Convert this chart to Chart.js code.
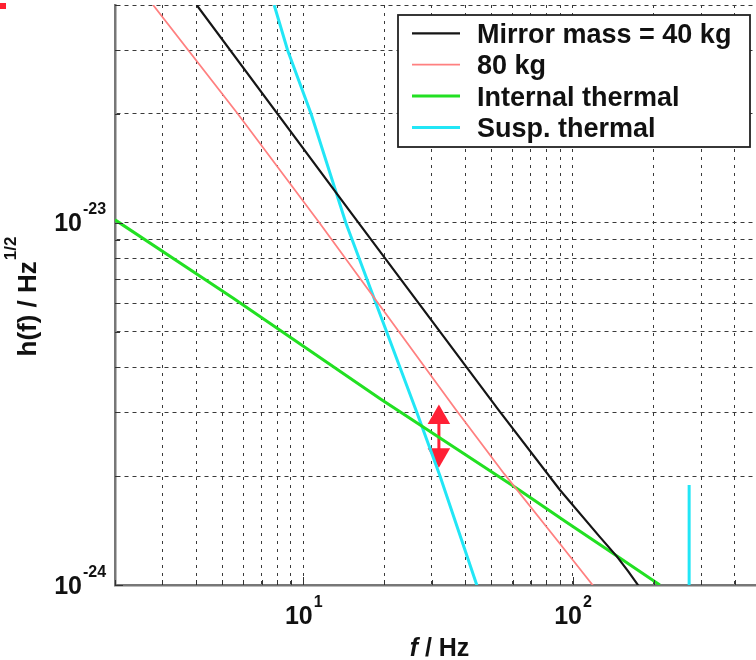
<!DOCTYPE html>
<html>
<head>
<meta charset="utf-8">
<title>h(f) noise curves</title>
<script src="https://cdn.jsdelivr.net/npm/chart.js@4.4.1/dist/chart.umd.min.js"></script>
<style>
  html, body { margin: 0; padding: 0; background: #fff; overflow: hidden; }
  #wrap { position: relative; width: 756px; height: 660px; }
  #mark { position: absolute; left: 0; top: 3px; width: 6px; height: 6px; background: #ff2030; }
</style>
</head>
<body>
<div id="wrap">
  <canvas id="noiseChart" width="756" height="660"></canvas>
  <div id="mark"></div>
</div>
<script>
// axis range and grid
const F_MIN = 2, F_MAX = 480;
const H_MIN = 1e-24, H_MAX = 4e-23;
const F_GRID = [2, 3, 4, 5, 6, 7, 8, 9, 10, 20, 30, 40, 50, 60, 70, 80, 90, 100, 200, 300, 400];
const H_GRID = [1e-24, 2e-24, 3e-24, 4e-24, 5e-24, 6e-24, 7e-24, 8e-24, 9e-24, 1e-23, 2e-23, 3e-23, 4e-23];
const F_LABEL_EXP = [1, 2];
const H_LABEL_EXP = [-24, -23];

// curves: [f / Hz, h / Hz^-1/2]
const mass40 = [[4.02, 4.0e-23], [15.3, 1.05e-23], [53.0, 3.05e-24], [89.8, 1.83e-24],
  [126, 1.36e-24], [146, 1.2e-24], [161, 1.09e-24], [175, 1.0e-24], [185, 0.93e-24]];
const mass80 = [[2.77, 4.0e-23], [5.72, 2.0e-23], [11.5, 1.0e-23], [36.9, 3.05e-24],
  [55.7, 2.03e-24], [89.8, 1.3e-24], [118.7, 1.0e-24], [125, 0.95e-24]];
const internalThermal = [[2, 1.02e-23], [5.5, 6.2e-24], [19.3, 3.27e-24], [62, 1.85e-24],
  [95, 1.49e-24], [142, 1.22e-24], [211, 1.0e-24]];
const suspThermal = [[7.8, 4.0e-23], [8.75, 3.0e-23], [10.7, 2.0e-23], [14.4, 1.0e-23], [26.4, 3.0e-24],
  [32.2, 2.0e-24], [44.1, 1.0e-24], [46, 0.92e-24], [100, null], [271, 0.9e-24], [271, 1.89e-24]];

// red double arrow (f, heads)
const ARROW_F = 31.9;
const ARROW_H = [2.9e-24, 2.29e-24];

const FONT = '"Liberation Sans", Arial, Helvetica, sans-serif';

const toXY = arr => arr.map(([x, y]) => ({ x, y }));

function drawPower(ctx, x, y, exp, size, supSize, align) {
  ctx.font = `bold ${size}px ${FONT}`;
  const base = ctx.measureText('10').width;
  ctx.font = `bold ${supSize}px ${FONT}`;
  const sup = ctx.measureText(String(exp)).width;
  const x0 = align === 'center' ? x - (base + sup) / 2 : x - base;
  ctx.font = `bold ${size}px ${FONT}`;
  ctx.fillText('10', x0, y);
  ctx.font = `bold ${supSize}px ${FONT}`;
  ctx.fillText(String(exp), x0 + base + 1, y - size * 0.68);
}

const decorations = {
  id: 'decorations',
  afterDraw(chart) {
    const { ctx, chartArea: area, scales: { x, y } } = chart;
    ctx.save();
    ctx.fillStyle = '#111';
    ctx.textAlign = 'left';
    ctx.textBaseline = 'alphabetic';

    // inward tick marks
    ctx.strokeStyle = '#333';
    ctx.lineWidth = 1;
    ctx.beginPath();
    F_GRID.forEach(v => {
      const px = Math.round(x.getPixelForValue(v)) + 0.5;
      const len = Number.isInteger(Math.log10(v)) ? 8 : 5;
      ctx.moveTo(px, area.bottom);
      ctx.lineTo(px, area.bottom - len);
    });
    H_GRID.forEach(v => {
      const py = Math.round(y.getPixelForValue(v)) + 0.5;
      const len = Math.abs(Math.log10(v) - Math.round(Math.log10(v))) < 1e-9 ? 8 : 5;
      ctx.moveTo(area.left, py);
      ctx.lineTo(area.left + len, py);
    });
    ctx.stroke();

    // tick labels
    H_LABEL_EXP.forEach(e => {
      const py = y.getPixelForValue(Math.pow(10, e));
      drawPower(ctx, 82, py + 8.5, e, 25, 16, 'right');
    });
    F_LABEL_EXP.forEach(e => {
      const px = x.getPixelForValue(Math.pow(10, e));
      drawPower(ctx, px, area.bottom + 39, e, 25, 16, 'center');
    });

    // x title: italic f
    const xt1 = 'f', xt2 = ' / Hz';
    ctx.font = `italic bold 25px ${FONT}`;
    const w1 = ctx.measureText(xt1).width;
    ctx.font = `bold 25px ${FONT}`;
    const w2 = ctx.measureText(xt2).width;
    const xc = (area.left + area.right) / 2 + 4;
    ctx.font = `italic bold 25px ${FONT}`;
    ctx.fillText(xt1, xc - (w1 + w2) / 2, area.bottom + 71);
    ctx.font = `bold 25px ${FONT}`;
    ctx.fillText(xt2, xc - (w1 + w2) / 2 + w1, area.bottom + 71);

    // y title, rotated
    const yt = 'h(f) / Hz', ysup = '1/2';
    ctx.font = `bold 26px ${FONT}`;
    const wm = ctx.measureText(yt).width;
    ctx.font = `bold 17px ${FONT}`;
    const ws = ctx.measureText(ysup).width;
    const yc = (area.top + area.bottom) / 2;
    ctx.save();
    ctx.translate(36, yc + (wm + ws) / 2 + 2);
    ctx.rotate(-Math.PI / 2);
    ctx.font = `bold 26px ${FONT}`;
    ctx.fillText(yt, 0, 0);
    ctx.font = `bold 17px ${FONT}`;
    ctx.fillText(ysup, wm + 1, -20);
    ctx.restore();

    // legend box
    const bx = 398, by = area.top + 10, bw = area.right - 6 - bx, bh = 132;
    ctx.fillStyle = '#fff';
    ctx.fillRect(bx, by, bw, bh);
    ctx.strokeStyle = '#222';
    ctx.lineWidth = 1.8;
    ctx.strokeRect(bx, by, bw, bh);
    ctx.font = `bold 27px ${FONT}`;
    chart.data.datasets.slice(0, 4).forEach((ds, i) => {
      const cy = by + 18.3 + i * 31.4;
      ctx.strokeStyle = ds.borderColor;
      ctx.lineWidth = ds.borderWidth;
      ctx.beginPath();
      ctx.moveTo(bx + 14, cy);
      ctx.lineTo(bx + 62, cy);
      ctx.stroke();
      ctx.fillStyle = '#111';
      ctx.fillText(ds.label, bx + 79, cy + 9.5);
    });
    ctx.restore();
  }
};

const line = (label, data, color, width) => ({
  label, data: toXY(data), borderColor: color, borderWidth: width,
  pointRadius: 0, tension: 0, spanGaps: false
});

new Chart(document.getElementById('noiseChart'), {
  type: 'line',
  data: {
    datasets: [
      line('Mirror mass = 40 kg', mass40, '#151515', 2.2),
      line('80 kg', mass80, '#ff8080', 1.8),
      line('Internal thermal', internalThermal, '#22e022', 3),
      line('Susp. thermal', suspThermal, '#22e6f6', 3),
      {
        label: '',
        data: ARROW_H.map(h => ({ x: ARROW_F, y: h })),
        borderColor: '#ff2035', borderWidth: 3,
        pointStyle: 'triangle', pointRadius: 13, pointRotation: [0, 180],
        pointBackgroundColor: '#ff2035', pointBorderWidth: 0
      }
    ]
  },
  options: {
    responsive: false,
    devicePixelRatio: 1,
    animation: false,
    events: [],
    layout: { autoPadding: false, padding: { top: 5, right: 0, bottom: 0, left: 0 } },
    plugins: { legend: { display: false }, tooltip: { enabled: false } },
    scales: {
      x: {
        type: 'logarithmic', min: F_MIN, max: F_MAX, bounds: 'data',
        afterBuildTicks: s => { s.ticks = F_GRID.map(v => ({ value: v })); },
        afterFit: s => { s.height = 75; },
        ticks: { display: false },
        grid: { color: '#3a3a3a', lineWidth: 1, drawTicks: false },
        border: { display: true, color: '#777', width: 2.5, dash: [3, 5] }
      },
      y: {
        type: 'logarithmic', min: H_MIN, max: H_MAX, bounds: 'data',
        afterBuildTicks: s => { s.ticks = H_GRID.map(v => ({ value: v })); },
        afterFit: s => { s.width = 115; },
        ticks: { display: false },
        grid: { color: '#3a3a3a', lineWidth: 1, drawTicks: false },
        border: { display: true, color: '#777', width: 2.5, dash: [4, 4] }
      }
    }
  },
  plugins: [decorations]
});
</script>
</body>
</html>
